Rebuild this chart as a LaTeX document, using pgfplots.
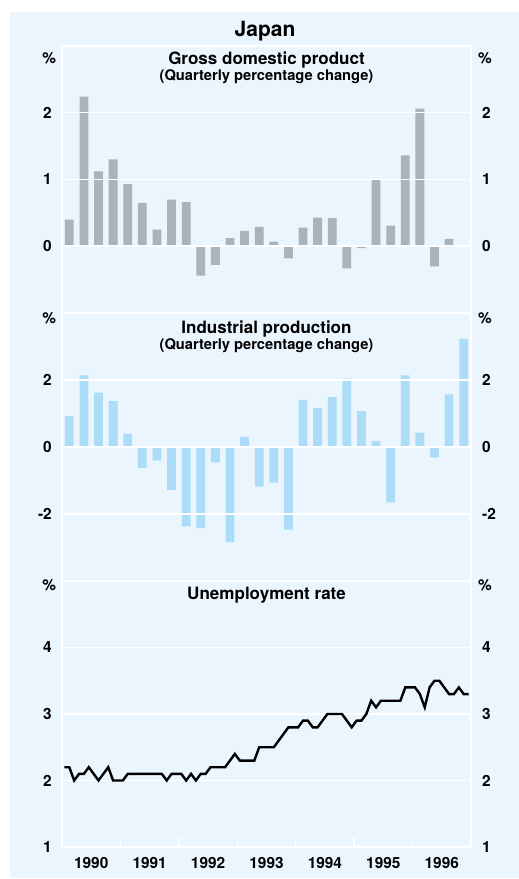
\documentclass[border=0pt]{standalone}
\usepackage{fontspec}
\setmainfont{TeX Gyre Heros}
\usepackage{pgfplots}
\usepackage{pgfplotstable}
\pgfplotsset{compat=1.18}
\definecolor{bgblue}{RGB}{235,245,254}
\definecolor{gdpgray}{RGB}{170,178,186}
\definecolor{ipblue}{RGB}{172,221,248}
\newcommand{\tickfont}{\fontsize{15.4bp}{17bp}\selectfont\bfseries}
\newcommand{\subfont}{\fontsize{17bp}{19bp}\selectfont\bfseries}
\newcommand{\notefont}{\fontsize{14.7bp}{16bp}\selectfont\bfseries}

\pgfplotstableread{
v
0.40
2.24
1.12
1.30
0.93
0.65
0.25
0.70
0.66
-0.44
-0.28
0.12
0.23
0.29
0.07
-0.18
0.28
0.43
0.42
-0.33
-0.03
0.99
0.31
1.36
2.06
-0.30
0.11
}\gdp

\pgfplotstableread{
v
0.92
2.14
1.62
1.37
0.40
-0.62
-0.40
-1.28
-2.37
-2.42
-0.46
-2.84
0.30
-1.18
-1.06
-2.47
1.41
1.16
1.49
2.04
1.07
0.18
-1.65
2.14
0.43
-0.31
1.57
3.23
}\ip

\pgfplotstableread{
v
2.2
2.2
2.0
2.1
2.1
2.2
2.1
2.0
2.1
2.2
2.0
2.0
2.0
2.1
2.1
2.1
2.1
2.1
2.1
2.1
2.1
2.0
2.1
2.1
2.1
2.0
2.1
2.0
2.1
2.1
2.2
2.2
2.2
2.2
2.3
2.4
2.3
2.3
2.3
2.3
2.5
2.5
2.5
2.5
2.6
2.7
2.8
2.8
2.8
2.9
2.9
2.8
2.8
2.9
3.0
3.0
3.0
3.0
2.9
2.8
2.9
2.9
3.0
3.2
3.1
3.2
3.2
3.2
3.2
3.2
3.4
3.4
3.4
3.3
3.1
3.4
3.5
3.5
3.4
3.3
3.3
3.4
3.3
3.3
}\unemp

\pgfplotsset{
  base/.style={scale only axis, width=409bp, anchor=south west,
    enlargelimits=false, clip=false,
    axis line style={white, line width=1.5bp},
    ymajorgrids, grid style={white, line width=1.5bp},
    major tick length=0pt,
    xtick=\empty,
    ticklabel style={font=\tickfont},
    yticklabel style={inner sep=0pt, anchor=east, xshift=-10bp},
  },
  rightlab/.style={scale only axis, width=409bp, anchor=south west,
    enlargelimits=false, hide x axis,
    axis line style={draw=none},
    major tick length=0pt, ytick style={draw=none},
    yticklabel pos=right,
    ticklabel style={font=\tickfont},
    yticklabel style={inner sep=0pt, anchor=west, xshift=11bp},
  },
}

\begin{document}
\begin{tikzpicture}
\useasboundingbox (0,0) rectangle (519bp,879bp);
\fill[white] (0,0) rectangle (519bp,879bp);
\fill[bgblue] (10bp,1bp) rectangle (519bp,867bp);

% Panel 1: GDP
\begin{axis}[base, at={(62bp,566bp)}, height=267bp,
  xmin=-0.5, xmax=27.5, ymin=-1, ymax=3,
  ytick={0,1,2}, yticklabels={0,1,2},
  axis on top, ybar, bar width=0.6]
\addplot[fill=gdpgray, draw=none] table[x expr=\coordindex, y=v] {\gdp};
\end{axis}
\begin{axis}[rightlab, at={(62bp,566bp)}, height=267bp,
  xmin=-0.5, xmax=27.5, ymin=-1, ymax=3,
  ytick={0,1,2}, yticklabels={0,1,2}]
\end{axis}

% Panel 2: Industrial production
\begin{axis}[base, at={(62bp,298bp)}, height=268bp,
  xmin=-0.5, xmax=27.5, ymin=-4, ymax=4,
  ytick={-2,0,2}, yticklabels={-2,0,2},
  axis on top, ybar, bar width=0.6]
\addplot[fill=ipblue, draw=none] table[x expr=\coordindex, y=v] {\ip};
\end{axis}
\begin{axis}[rightlab, at={(62bp,298bp)}, height=268bp,
  xmin=-0.5, xmax=27.5, ymin=-4, ymax=4,
  ytick={-2,0,2}, yticklabels={-2,0,2}]
\end{axis}

% Panel 3: Unemployment rate
\begin{axis}[base, at={(62bp,32bp)}, height=266bp,
  xmin=-0.5, xmax=83.5, ymin=1, ymax=5,
  ytick={1,2,3,4}, yticklabels={1,2,3,4},
  xtick={5.5,17.5,29.5,41.5,53.5,65.5,77.5},
  xticklabels={1990,1991,1992,1993,1994,1995,1996},
  xticklabel style={inner sep=0pt, anchor=north, yshift=-10.5bp},
  minor xtick={11.5,23.5,35.5,47.5,59.5,71.5},
  minor tick length=9bp, tick align=inside, xtick pos=left,
  minor tick style={white, line width=1.5bp}]
\addplot[black, line width=2.4bp, line join=miter] table[x expr=\coordindex, y=v] {\unemp};
\end{axis}
\begin{axis}[rightlab, at={(62bp,32bp)}, height=266bp,
  xmin=-0.5, xmax=83.5, ymin=1, ymax=5,
  ytick={1,2,3,4}, yticklabels={1,2,3,4}]
\end{axis}

% Titles and unit labels
\node[inner sep=0pt, font=\fontsize{21bp}{24bp}\selectfont\bfseries] at (265bp,847.7bp) {Japan};
\node[inner sep=0pt, font=\subfont] at (266.5bp,819.3bp) {Gross domestic product};
\node[inner sep=0pt, font=\notefont] at (266.5bp,802bp) {(Quarterly percentage change)};
\node[inner sep=0pt, font=\subfont] at (266.5bp,550.2bp) {Industrial production};
\node[inner sep=0pt, font=\notefont] at (266.5bp,533.5bp) {(Quarterly percentage change)};
\node[inner sep=0pt, font=\subfont] at (266.5bp,283.5bp) {Unemployment rate};
\foreach \yy in {820.7,560.7,293.7} {
  \node[inner sep=0pt, font=\tickfont] at (49.3bp,\yy bp) {\%};
  \node[inner sep=0pt, font=\tickfont] at (485bp,\yy bp) {\%};
}
\end{tikzpicture}
\end{document}
